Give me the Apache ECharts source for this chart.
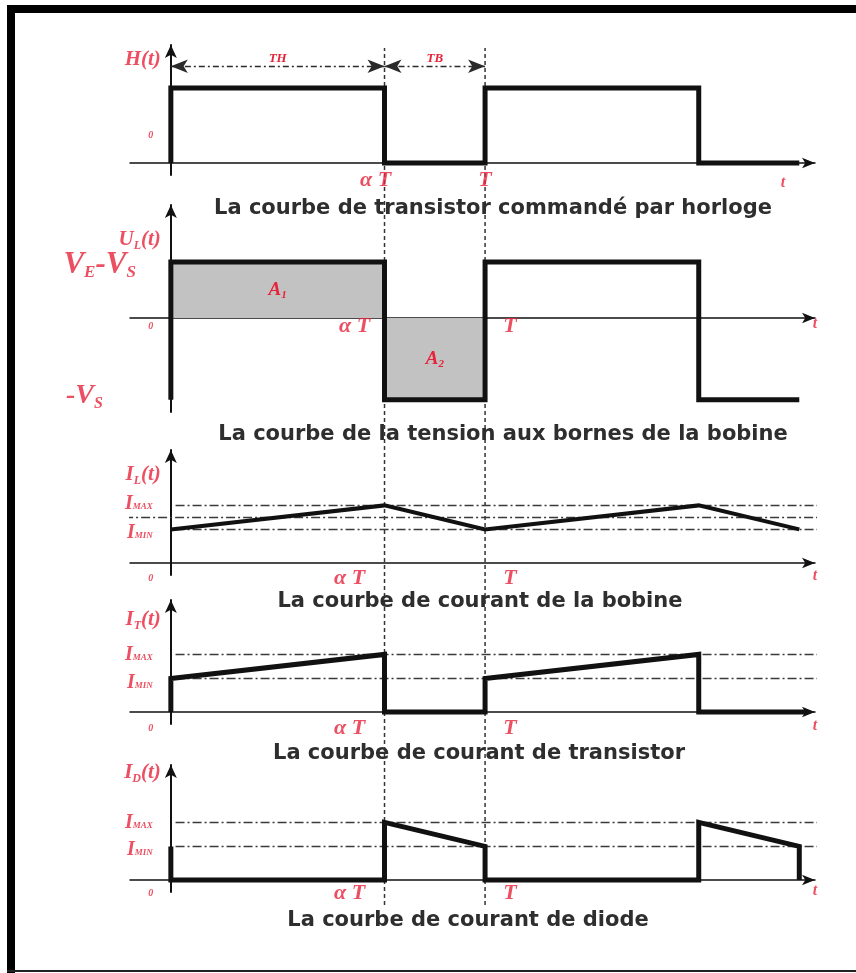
<!DOCTYPE html>
<html>
<head>
<meta charset="utf-8">
<script src="https://cdn.jsdelivr.net/npm/echarts@6/dist/echarts.min.js"></script>
<style>
  html, body { margin: 0; padding: 0; background: #fff; }
  #chart { width: 856px; height: 973px; }
</style>
</head>
<body>
<div id="chart"></div>
<script>
// Buck converter waveforms over two switching periods (time in units of T)
const alpha = 0.68;      // duty ratio
const period = 1;        // T
const tSpan = [-0.13, 2.05];

// H(t): clock-driven transistor command
const clockT = [0, 0, 0.68, 0.68, 1, 1, 1.68, 1.68, 2.0];
const clockH = [0, 1, 1, 0, 0, 1, 1, 0, 0];

// U_L(t): inductor voltage, V_E - V_S while on, -V_S while off
const uHigh = 1;
const uLow = -1.46;
const coilUT = [0, 0, 0.68, 0.68, 1, 1, 1.68, 1.68, 2.0];
const coilU = [-1.46, 1, 1, -1.46, -1.46, 1, 1, -1.46, -1.46];

// Current ripple bounds
const iMax = 2.4;
const iMin = 1.4;
const iMean = 1.9;

// I_L(t): inductor current
const coilIT = [0, 0.68, 1, 1.68, 2.0];
const coilI = [1.4, 2.4, 1.4, 2.4, 1.4];

// I_T(t): transistor current
const transT = [0, 0, 0.68, 0.68, 1, 1, 1.68, 1.68, 2.02];
const transI = [0, 1.4, 2.4, 0, 0, 1.4, 2.4, 0, 0];

// I_D(t): diode current
const diodeT = [0, 0, 0.68, 0.68, 1, 1, 1.68, 1.68, 2.0, 2.0];
const diodeI = [1.4, 0, 0, 2.4, 1.4, 0, 0, 2.4, 1.4, 0];

// Text
const axisNames = [
  ['H', '', '(t)'],
  ['U', 'L', '(t)'],
  ['I', 'L', '(t)'],
  ['I', 'T', '(t)'],
  ['I', 'D', '(t)']
];
const timeMarks = ['0', 'α T', 'T', 't'];
const periodParts = ['TH', 'TB'];
const areaNames = [['A', '1'], ['A', '2']];
const captions = [
  'La courbe de transistor commandé par horloge',
  'La courbe de la tension aux bornes de la bobine',
  'La courbe de courant de la bobine',
  'La courbe de courant de transistor',
  'La courbe de courant de diode'
];

const RED = '#e6233a';
const INK = '#111111';
const SERIF = "'Liberation Serif', 'DejaVu Serif', serif";
const SANS = "'DejaVu Sans', 'Open Sans', sans-serif";

const zip = (xs, ys) => xs.map((x, i) => [x, ys[i]]);

// Rich text with a lowered subscript
function richSet(big, sub, drop) {
  const base = { fontFamily: SERIF, fontStyle: 'italic', fontWeight: 'bold', color: RED, verticalAlign: 'top' };
  return {
    b: Object.assign({ fontSize: big, lineHeight: big }, base),
    s: Object.assign({ fontSize: sub, lineHeight: sub, padding: [drop, 0, 0, 0] }, base)
  };
}
function subText(parts) {
  let s = '{b|' + parts[0] + '}';
  if (parts[1]) s += '{s|' + parts[1] + '}';
  if (parts[2]) s += '{b|' + parts[2] + '}';
  return s;
}
function tag(value, text, rich, dx, dy, align) {
  return {
    value: value,
    label: {
      show: true, position: 'inside', formatter: text, rich: rich,
      offset: [dx, dy], align: align || 'center', verticalAlign: 'middle'
    }
  };
}

const panels = [
  { top: 45, height: 130, yMin: -0.16, yMax: 1.573 },
  { top: 205, height: 207, yMin: -1.679, yMax: 2.018 },
  { top: 450, height: 125, yMin: -0.5, yMax: 4.708 },
  { top: 600, height: 124, yMin: -0.5, yMax: 4.667 },
  { top: 765, height: 127, yMin: -0.5, yMax: 4.792 }
];
const captionY = [198, 424, 591, 743, 910];
const captionX = [493, 503, 480, 479, 468];

const grids = panels.map(p => ({ left: 130, width: 685, top: p.top, height: p.height }));
grids.push({ left: 130, width: 685, top: 48, height: 857 });

const xAxes = grids.map((g, i) => ({
  gridIndex: i, type: 'value', min: tSpan[0], max: tSpan[1], show: i < 5,
  axisLine: { onZero: true, symbol: ['none', 'arrow'], symbolSize: [8, 13], lineStyle: { color: INK, width: 1.5 } },
  axisTick: { show: false }, axisLabel: { show: false }, splitLine: { show: false }
}));
const yAxes = panels.map((p, i) => ({
  gridIndex: i, type: 'value', min: p.yMin, max: p.yMax,
  axisLine: { show: true, onZero: true, symbol: ['none', 'arrow'], symbolSize: [9, 13], lineStyle: { color: INK, width: 2 } },
  axisTick: { show: false }, axisLabel: { show: false }, splitLine: { show: false }
}));
yAxes.push({ gridIndex: 5, type: 'value', min: 0, max: 1, show: false });

const signalStyle = { color: INK, width: 5, join: 'miter', cap: 'butt' };
const levelStyle = { color: '#3a3a3a', width: 1.5, type: [9, 3, 2, 3] };

function signal(i, data, width, extra) {
  return Object.assign({
    type: 'line', xAxisIndex: i, yAxisIndex: i, data: data, symbol: 'none',
    lineStyle: Object.assign({}, signalStyle, { width: width || 5 }), z: 4, silent: true
  }, extra || {});
}
function level(i, y, x0, x1) {
  return {
    type: 'line', xAxisIndex: i, yAxisIndex: i, data: [[x0, y], [x1, y]], symbol: 'none',
    clip: false, lineStyle: levelStyle, z: 3, silent: true
  };
}
function tags(i, items) {
  return {
    type: 'scatter', xAxisIndex: i, yAxisIndex: i, symbolSize: 1, clip: false,
    itemStyle: { color: 'rgba(0,0,0,0)' }, silent: true, z: 6, data: items
  };
}

const nameRich = richSet(21, 12, 10);
const markRich = richSet(22, 9, 8);
const smallRich = richSet(16, 8, 6);
const zeroRich = richSet(10, 6, 4);
const levelRich = richSet(20, 9, 9);
const voltRich = richSet(31, 17, 15);
const areaRich = richSet(19, 11, 9);

const levelName = (sub) => subText(['I', sub]);

// Shared time-axis annotations for every panel
function timeTags(i, dy, tDx, aDx) {
  return [
    tag([0, 0], '{b|' + timeMarks[0] + '}', zeroRich, -20, dy),
    tag([alpha, 0], '{b|' + timeMarks[1] + '}', markRich, aDx, dy),
    tag([period, 0], '{b|' + timeMarks[2] + '}', markRich, tDx, dy),
    tag([tSpan[1], 0], '{b|' + timeMarks[3] + '}', smallRich, 0, dy - 2)
  ];
}

const series = [];

// Vertical guides at αT and T crossing all panels
[alpha, period].forEach(v => series.push({
  type: 'line', xAxisIndex: 5, yAxisIndex: 5, data: [[v, 0], [v, 1]], symbol: 'none',
  lineStyle: { color: '#333', width: 1.5, type: [4, 3] }, z: 1, silent: true
}));

// Panel 1: H(t) with the on/off duration arrows
series.push(signal(0, zip(clockT, clockH), 5, {
  markLine: {
    silent: true, symbol: ['arrow', 'arrow'], symbolSize: [10, 17],
    lineStyle: { color: '#2a2a2a', width: 1.3, type: [6, 3, 2, 3] },
    label: { show: true, position: 'insideMiddleTop', distance: 1, rich: richSet(13, 7, 4) },
    data: [
      [{ coord: [0, 1.29], label: { formatter: '{b|' + periodParts[0] + '}' } }, { coord: [alpha, 1.29] }],
      [{ coord: [alpha, 1.29], label: { formatter: '{b|' + periodParts[1] + '}' } }, { coord: [period, 1.29] }]
    ]
  }
}));
series.push(tags(0, [
  tag([0, panels[0].yMax], subText(axisNames[0]), nameRich, -10, 15, 'right'),
  tag([0, 0], '{b|0}', zeroRich, -20, -28),
  tag([alpha, 0], '{b|' + timeMarks[1] + '}', markRich, -9, 17),
  tag([period, 0], '{b|' + timeMarks[2] + '}', markRich, 0, 17),
  tag([tSpan[1], 0], '{b|' + timeMarks[3] + '}', smallRich, -32, 20)
]));

// Panel 2: U_L(t) with volt-second areas
series.push(signal(1, zip(coilUT, coilU), 5, {
  markArea: {
    silent: true,
    itemStyle: { color: '#c2c2c2' },
    label: { show: true, position: 'inside', rich: areaRich },
    data: [
      [{ coord: [0, 0], label: { formatter: subText(areaNames[0]) } }, { coord: [alpha, uHigh] }],
      [{ coord: [alpha, 0], label: { formatter: subText(areaNames[1]) } }, { coord: [period, uLow] }]
    ]
  }
}));
series.push(tags(1, [
  tag([0, panels[1].yMax], subText(axisNames[1]), nameRich, -10, 35, 'right'),
  tag([0, uHigh], '{b|V}{s|E}{b|-V}{s|S}', voltRich, -35, 3, 'right'),
  tag([0, uLow], '{b|-V}{s|S}', richSet(28, 16, 14), -68, -4, 'right')
].concat(timeTags(1, 8, 25, -30))));

// Panel 3: I_L(t)
series.push(level(2, iMean, -0.257, 2.16));
series.push(level(2, iMax, 0.015, 2.13));
series.push(level(2, iMin, 0.015, 2.13));
series.push(signal(2, zip(coilIT, coilI), 4));
series.push(tags(2, [
  tag([0, panels[2].yMax], subText(axisNames[2]), nameRich, -10, 25, 'right'),
  tag([0, iMax], levelName('MAX'), levelRich, -18, -2, 'right'),
  tag([0, iMin], levelName('MIN'), levelRich, -18, 3, 'right')
].concat(timeTags(2, 15, 25, -35))));

// Panel 4: I_T(t)
series.push(level(3, iMax, 0.015, 2.13));
series.push(level(3, iMin, 0.015, 2.13));
series.push(signal(3, zip(transT, transI), 5));
series.push(tags(3, [
  tag([0, panels[3].yMax], subText(axisNames[3]), nameRich, -10, 20, 'right'),
  tag([0, iMax], levelName('MAX'), levelRich, -18, 0, 'right'),
  tag([0, iMin], levelName('MIN'), levelRich, -18, 4, 'right')
].concat(timeTags(3, 16, 25, -35))));

// Panel 5: I_D(t)
series.push(level(4, iMax, 0.015, 2.13));
series.push(level(4, iMin, 0.015, 2.13));
series.push(signal(4, zip(diodeT, diodeI), 5));
series.push(tags(4, [
  tag([0, panels[4].yMax], subText(axisNames[4]), nameRich, -10, 8, 'right'),
  tag([0, iMax], levelName('MAX'), levelRich, -18, 0, 'right'),
  tag([0, iMin], levelName('MIN'), levelRich, -18, 3, 'right')
].concat(timeTags(4, 13, 25, -35))));

const option = {
  animation: false,
  backgroundColor: '#ffffff',
  graphic: [
    { type: 'rect', left: 7, top: 5, shape: { width: 8, height: 968 }, style: { fill: '#000' }, silent: true },
    { type: 'rect', left: 7, top: 5, shape: { width: 849, height: 8 }, style: { fill: '#000' }, silent: true },
    { type: 'rect', left: 7, top: 970, shape: { width: 849, height: 2 }, style: { fill: '#222' }, silent: true }
  ],
  title: captions.map((c, i) => ({
    text: c, left: captionX[i], top: captionY[i], textAlign: 'center', padding: 0,
    textStyle: { fontFamily: SANS, fontWeight: 'bold', fontSize: 21, color: '#2e2e2e' }
  })),
  grid: grids,
  xAxis: xAxes,
  yAxis: yAxes,
  series: series
};

const chart = echarts.init(document.getElementById('chart'), null, { renderer: 'canvas' });
chart.setOption(option);
</script>
</body>
</html>
